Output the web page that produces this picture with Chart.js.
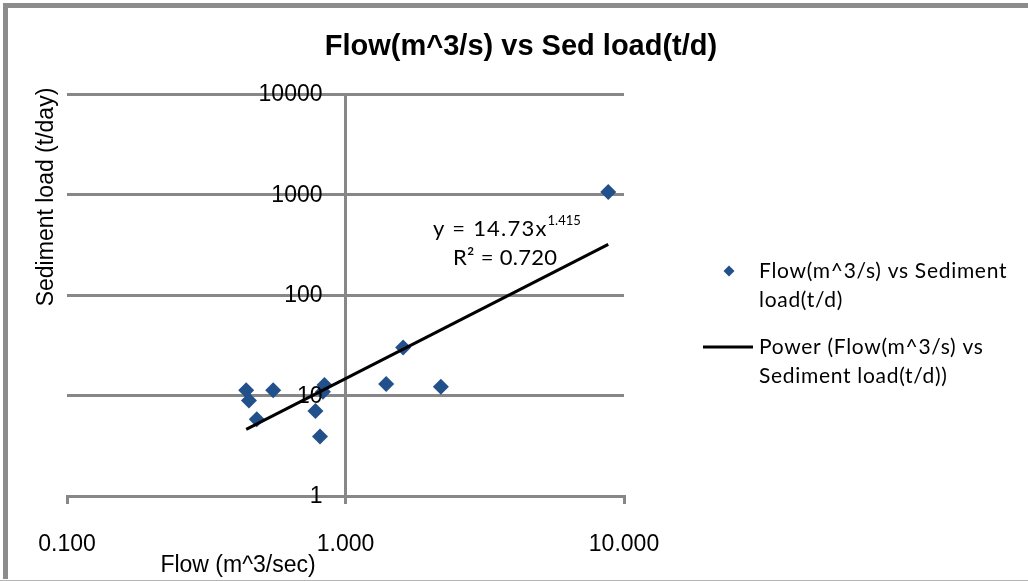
<!DOCTYPE html>
<html>
<head>
<meta charset="utf-8">
<title>Flow vs Sediment load</title>
<script src="https://cdn.jsdelivr.net/npm/chart.js@4/dist/chart.umd.min.js"></script>
<style>
  html, body { margin: 0; padding: 0; background: #ffffff; }
  #wrap { position: relative; width: 1028px; height: 581px; }
  canvas { display: block; }
</style>
</head>
<body>
<div id="wrap"><canvas id="chart" width="1028" height="581"></canvas></div>
<script>
// Measured flow (m^3/s) and sediment load (t/d)
const flowValues = [0.44, 0.45, 0.48, 0.55, 0.78, 0.81, 0.83, 0.84, 1.40, 1.61, 2.20, 8.78];
const sedLoadValues = [11.3, 8.9, 5.8, 11.3, 7.0, 3.9, 10.9, 12.7, 13.0, 30.1, 12.2, 1060];

// Power trendline y = a * x^b
const trendCoef = 14.73;
const trendExp = 1.415;
const trendR2 = 0.720;

// Axis ticks
const xTickValues = [0.1, 1, 10];
const xTickLabels = ['0.100', '1.000', '10.000'];
const yTickValues = [1, 10, 100, 1000, 10000];
const yTickLabels = ['1', '10', '100', '1000', '10000'];

const chartTitle = 'Flow(m^3/s) vs Sed load(t/d)';
const xAxisTitle = 'Flow (m^3/sec)';
const yAxisTitle = 'Sediment load (t/day)';
const seriesName = ['Flow(m^3/s) vs Sediment', 'load(t/d)'];
const trendName = ['Power (Flow(m^3/s) vs', 'Sediment load(t/d))'];

const GRID = '#878787';
const MARKER = '#22508b';
const AXIS_FONT = '"Liberation Sans", Arial, sans-serif';
const NOTE_FONT = 'Lato, "Open Sans", sans-serif';

const points = flowValues.map((x, i) => ({ x: x, y: sedLoadValues[i] }));
const xMin = Math.min(...flowValues);
const xMax = Math.max(...flowValues);
const trendPoints = [xMin, xMax].map(x => ({ x: x, y: trendCoef * Math.pow(x, trendExp) }));

function spacedText(ctx, text, x, y, spacing) {
  ctx.letterSpacing = spacing + 'px';
  ctx.fillText(text, x, y);
  const w = ctx.measureText(text).width;
  ctx.letterSpacing = '0px';
  return w;
}

const decorations = {
  id: 'decorations',
  beforeDraw(chart) {
    const ctx = chart.ctx;
    ctx.save();
    ctx.fillStyle = '#ffffff';
    ctx.fillRect(0, 0, chart.width, chart.height);
    // outer frame
    ctx.fillStyle = '#8c8c8c';
    ctx.fillRect(3, 3, chart.width - 3, 5);
    ctx.fillRect(3, 3, 5, chart.height - 5);
    ctx.fillStyle = '#b4b4b4';
    ctx.fillRect(0, chart.height - 1, chart.width, 1);
    ctx.restore();
  },
  afterDraw(chart) {
    const ctx = chart.ctx;
    const xs = chart.scales.x;
    const ys = chart.scales.y;
    ctx.save();
    ctx.fillStyle = '#000000';
    ctx.textBaseline = 'middle';

    // y tick labels, right-aligned beside the vertical axis at x = 1
    ctx.font = '23px ' + AXIS_FONT;
    ctx.textAlign = 'right';
    const axisX = xs.getPixelForValue(1);
    yTickValues.forEach((v, i) => {
      ctx.fillText(yTickLabels[i], axisX - 23, ys.getPixelForValue(v) + 1);
    });

    // title
    ctx.font = 'bold 29px ' + AXIS_FONT;
    ctx.textAlign = 'center';
    ctx.fillText(chartTitle, 521, 47);

    // axis titles
    ctx.font = '23px ' + AXIS_FONT;
    ctx.fillText(xAxisTitle, 238, 566);
    ctx.save();
    ctx.translate(47, 197);
    ctx.rotate(-Math.PI / 2);
    ctx.fillText(yAxisTitle, 0, 0);
    ctx.restore();

    // trendline equation
    ctx.textAlign = 'left';
    ctx.font = '22px ' + NOTE_FONT;
    const eqBase = 'y = ' + trendCoef.toFixed(2) + 'x';
    const w = spacedText(ctx, eqBase, 433, 229, 1.2);
    ctx.font = '13px ' + NOTE_FONT;
    ctx.fillText(trendExp.toFixed(3), 433 + w, 221);
    ctx.font = '22px ' + NOTE_FONT;
    spacedText(ctx, 'R\u00B2 = ' + trendR2.toFixed(3), 453, 258, 0.3);

    // legend
    ctx.fillStyle = MARKER;
    Chart.helpers.drawPoint(ctx, { pointStyle: 'rectRot', radius: 5.5, borderWidth: 0 }, 729, 271);
    ctx.fillStyle = '#000000';
    ctx.font = '21px ' + NOTE_FONT;
    spacedText(ctx, seriesName[0], 759, 271, 0.7);
    spacedText(ctx, seriesName[1], 759, 300, 0.7);
    ctx.strokeStyle = '#000000';
    ctx.lineWidth = 3;
    ctx.beginPath();
    ctx.moveTo(703, 347);
    ctx.lineTo(753, 347);
    ctx.stroke();
    spacedText(ctx, trendName[0], 759, 347, 0.7);
    spacedText(ctx, trendName[1], 759, 376, 0.7);
    ctx.restore();
  }
};

new Chart(document.getElementById('chart'), {
  type: 'scatter',
  data: {
    datasets: [
      {
        label: seriesName.join(' '),
        data: points,
        pointStyle: 'rectRot',
        pointRadius: 8,
        pointHoverRadius: 8,
        backgroundColor: MARKER,
        borderColor: MARKER,
        borderWidth: 0,
        showLine: false,
        order: 2
      },
      {
        label: trendName.join(' '),
        data: trendPoints,
        type: 'line',
        showLine: true,
        borderColor: '#000000',
        borderWidth: 3,
        pointRadius: 0,
        fill: false,
        order: 1
      }
    ]
  },
  options: {
    responsive: false,
    devicePixelRatio: 1,
    animation: false,
    events: [],
    layout: { padding: { left: 67, right: 404, top: 94, bottom: 0 } },
    plugins: {
      legend: { display: false },
      title: { display: false },
      tooltip: { enabled: false }
    },
    scales: {
      x: {
        type: 'logarithmic',
        position: 'bottom',
        min: 0.1,
        max: 10,
        afterBuildTicks(scale) { scale.ticks = xTickValues.map(v => ({ value: v, major: true })); },
        afterFit(scale) { scale.height = 85; },
        grid: { display: true, drawOnChartArea: false, drawTicks: true, tickLength: 8, color: GRID, lineWidth: 3 },
        border: { display: true, color: GRID, width: 3 },
        ticks: {
          padding: 27,
          color: '#000000',
          font: { family: AXIS_FONT, size: 23 },
          maxRotation: 0,
          autoSkip: false,
          callback(value) {
            const i = xTickValues.indexOf(value);
            return i >= 0 ? xTickLabels[i] : '';
          }
        }
      },
      y: {
        type: 'logarithmic',
        position: { x: 1 },
        min: 1,
        max: 10000,
        afterBuildTicks(scale) { scale.ticks = yTickValues.map(v => ({ value: v, major: true })); },
        grid: { display: true, drawOnChartArea: true, drawTicks: false, color: GRID, lineWidth: 3 },
        border: { display: true, color: GRID, width: 3 },
        ticks: { display: false }
      }
    }
  },
  plugins: [decorations]
});
</script>
</body>
</html>
